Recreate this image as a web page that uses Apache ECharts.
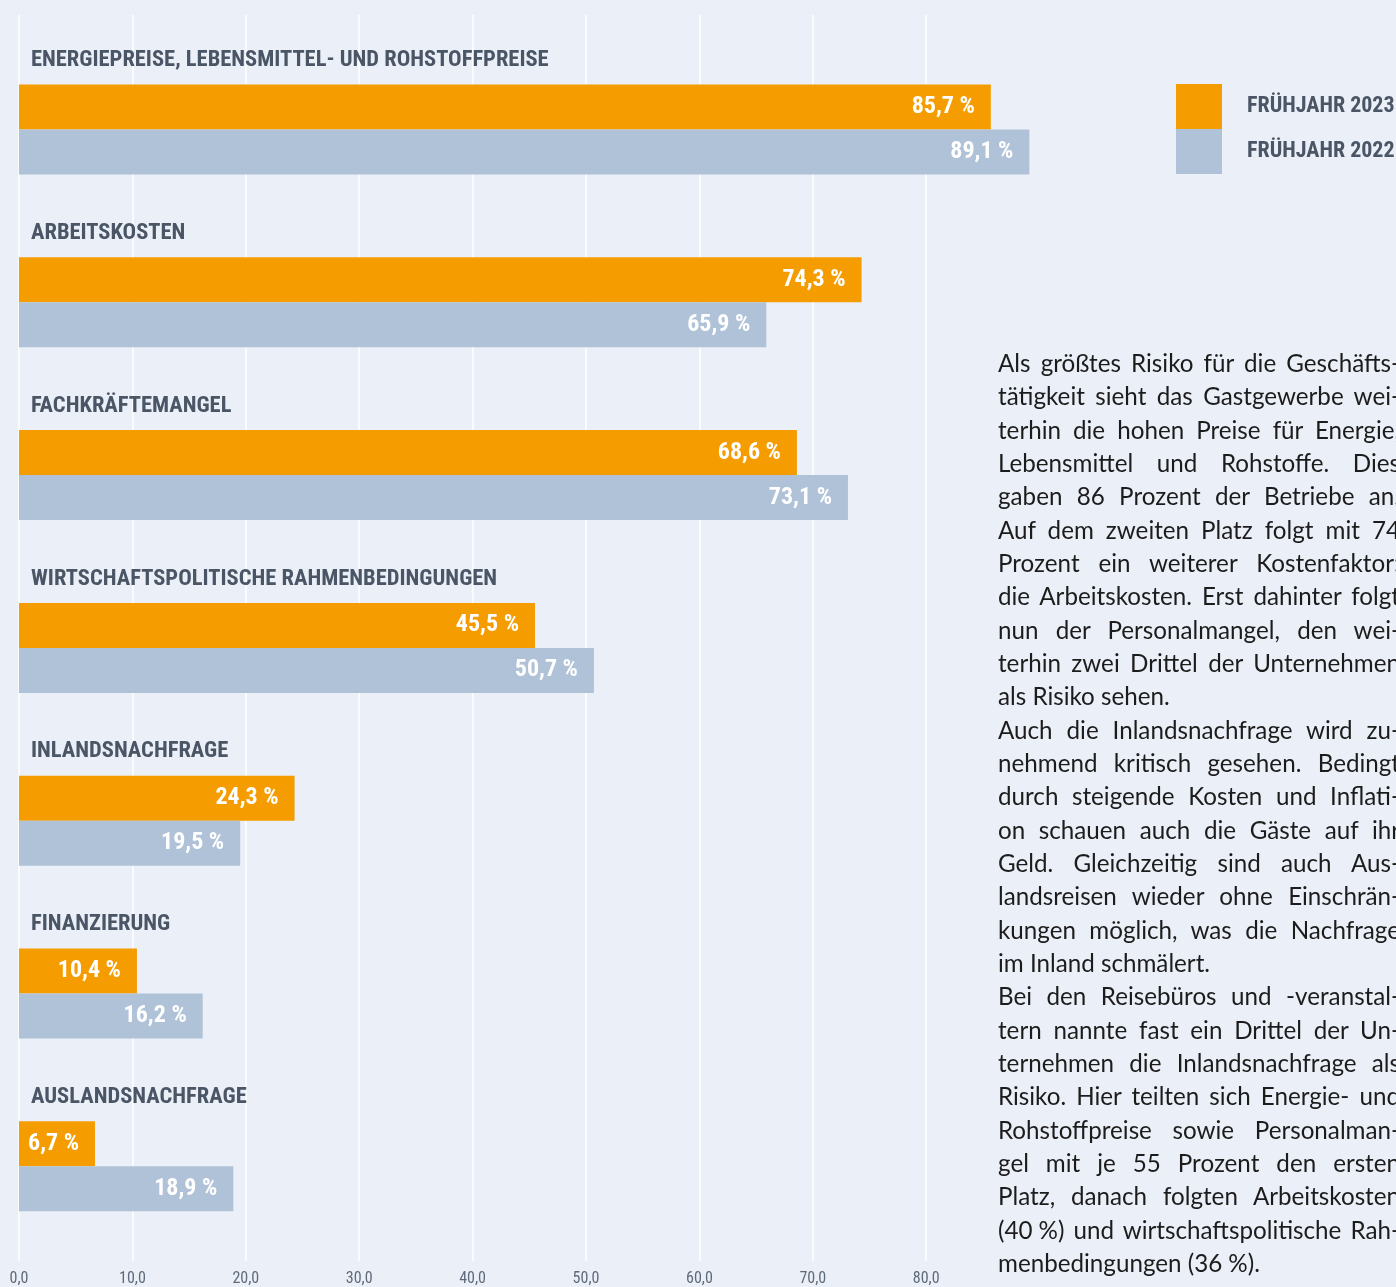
<!DOCTYPE html>
<html>
<head>
<meta charset="utf-8">
<script src="https://cdn.jsdelivr.net/npm/echarts@6/dist/echarts.min.js"></script>
<style>
  html, body { margin: 0; padding: 0; background: #ebeff7; overflow: hidden; }
  #chart { position: absolute; left: 0; top: 0; width: 1396px; height: 1287px; }
  #text {
    position: absolute; left: 998px; top: 346px; width: 402px;
    font-family: "Lato", "Noto Sans", sans-serif; font-size: 24.2px; line-height: 33.33px;
    color: #1c1c1c;
  }
  #text div { text-align: justify; text-align-last: justify; white-space: nowrap; }
  #text div.end { text-align-last: left; }
</style>
</head>
<body>
<div id="chart"></div>
<div id="text"></div>
<script>
// Kategorien (von oben nach unten)
const categories = [
  'ENERGIEPREISE, LEBENSMITTEL- UND ROHSTOFFPREISE',
  'ARBEITSKOSTEN',
  'FACHKRÄFTEMANGEL',
  'WIRTSCHAFTSPOLITISCHE RAHMENBEDINGUNGEN',
  'INLANDSNACHFRAGE',
  'FINANZIERUNG',
  'AUSLANDSNACHFRAGE'
];
const seriesNames = ['FRÜHJAHR 2023', 'FRÜHJAHR 2022'];
const values2023 = [85.7, 74.3, 68.6, 45.5, 24.3, 10.4, 6.7];
const values2022 = [89.1, 65.9, 73.1, 50.7, 19.5, 16.2, 18.9];

// Fließtext rechts (Zeilen wie im Original umbrochen, | = Absatzende)
const textLines = [
  'Als größtes Risiko für die Geschäfts-',
  'tätigkeit sieht das Gastgewerbe wei-',
  'terhin die hohen Preise für Energie,',
  'Lebensmittel und Rohstoffe. Dies',
  'gaben 86 Prozent der Betriebe an.',
  'Auf dem zweiten Platz folgt mit 74',
  'Prozent ein weiterer Kostenfaktor:',
  'die Arbeitskosten. Erst dahinter folgt',
  'nun der Personalmangel, den wei-',
  'terhin zwei Drittel der Unternehmen',
  'als Risiko sehen.|',
  'Auch die Inlandsnachfrage wird zu-',
  'nehmend kritisch gesehen. Bedingt',
  'durch steigende Kosten und Inflati-',
  'on schauen auch die Gäste auf ihr',
  'Geld. Gleichzeitig sind auch Aus-',
  'landsreisen wieder ohne Einschrän-',
  'kungen möglich, was die Nachfrage',
  'im Inland schmälert.|',
  'Bei den Reisebüros und -veranstal-',
  'tern nannte fast ein Drittel der Un-',
  'ternehmen die Inlandsnachfrage als',
  'Risiko. Hier teilten sich Energie- und',
  'Rohstoffpreise sowie Personalman-',
  'gel mit je 55 Prozent den ersten',
  'Platz, danach folgten Arbeitskosten',
  '(40\u202F%) und wirtschaftspolitische Rah-',
  'menbedingungen (36\u202F%).|'
];

const textBox = document.getElementById('text');
textLines.forEach(function (l) {
  const d = document.createElement('div');
  if (l.endsWith('|')) { d.className = 'end'; l = l.slice(0, -1); }
  d.textContent = l;
  textBox.appendChild(d);
});

const NARROW = '"Roboto Condensed", Roboto, sans-serif';
const SLATE = '#4a5566';
const ORANGE = '#f59d00';
const GREY = '#b0c2d8';
const UNIT = 11.34; // Pixel pro Prozentpunkt

const fmt = function (v) { return v.toFixed(1).replace('.', ','); };

const valueLabel = {
  show: true,
  position: 'insideRight',
  distance: 16,
  color: '#ffffff',
  fontFamily: NARROW,
  fontWeight: 'bold',
  fontSize: 24,
  padding: [4, 0, 0, 0],
  formatter: function (p) { return fmt(p.value) + ' %'; }
};

const myChart = echarts.init(document.getElementById('chart'));
myChart.setOption({
  backgroundColor: '#ebeff7',
  animation: false,
  legend: {
    orient: 'vertical',
    left: 1176,
    top: 84,
    padding: 0,
    itemWidth: 46,
    itemHeight: 45,
    itemGap: 0,
    icon: 'rect',
    data: seriesNames,
    textStyle: {
      color: SLATE,
      fontFamily: NARROW,
      fontWeight: 'bold',
      fontSize: 22,
      padding: [4, 0, 0, 20]
    }
  },
  grid: [
    { left: 19, top: 43.1, width: 90 * UNIT, height: 1209.6, outerBoundsMode: 'none' },
    { left: 19, top: 15, width: 80 * UNIT, height: 1246, outerBoundsMode: 'none' }
  ],
  xAxis: [
    { gridIndex: 0, type: 'value', min: 0, max: 90, show: false },
    {
      gridIndex: 1, type: 'value', min: 0, max: 80, interval: 10,
      axisLine: { show: false },
      axisTick: { show: false },
      splitLine: { show: true, lineStyle: { color: '#ffffff', width: 1.5 } },
      axisLabel: {
        margin: 10,
        color: '#5f6a7a',
        fontFamily: NARROW,
        fontSize: 16,
        formatter: fmt
      }
    }
  ],
  yAxis: [
    {
      gridIndex: 0,
      type: 'category',
      inverse: true,
      data: categories,
      axisLine: { show: false },
      axisTick: { show: false },
      splitLine: { show: false },
      axisLabel: {
        inside: true,
        margin: 12,
        align: 'left',
        verticalAlign: 'bottom',
        lineHeight: 138,
        color: SLATE,
        fontFamily: NARROW,
        fontWeight: 'bold',
        fontSize: 22.5
      },
      z: 5
    },
    { gridIndex: 1, type: 'value', show: false }
  ],
  series: [
    {
      name: seriesNames[0],
      type: 'bar',
      xAxisIndex: 0,
      yAxisIndex: 0,
      data: values2023,
      barWidth: 45,
      barGap: '0%',
      itemStyle: { color: ORANGE },
      label: valueLabel
    },
    {
      name: seriesNames[1],
      type: 'bar',
      xAxisIndex: 0,
      yAxisIndex: 0,
      data: values2022,
      barWidth: 45,
      barGap: '0%',
      itemStyle: { color: GREY },
      label: valueLabel
    }
  ]
});
</script>
</body>
</html>
